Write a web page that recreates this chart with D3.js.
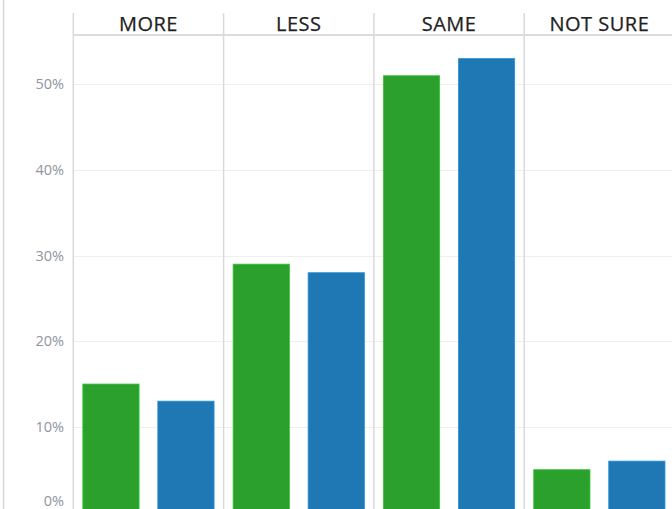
<!DOCTYPE html>
<html>
<head>
<meta charset="utf-8">
<script src="https://cdn.jsdelivr.net/npm/d3@7"></script>
<style>
  html, body { margin: 0; padding: 0; background: #fff; }
  svg { display: block; }
</style>
</head>
<body>
<svg id="chart" width="672" height="509"></svg>
<script>
// Answer categories (one panel each) and the two series compared inside each panel
const categories = ["MORE", "LESS", "SAME", "NOT SURE"];
const seriesNames = ["Group A", "Group B"];
const groupA = [15, 29, 51, 5];   // percent
const groupB = [13, 28, 53, 6];   // percent
const yTicks = [0, 10, 20, 30, 40, 50];
const seriesColors = ["#2ca02c", "#1f77b4"];

const rows = categories.map((c, i) => ({
  category: c,
  values: [
    { series: seriesNames[0], value: groupA[i] },
    { series: seriesNames[1], value: groupB[i] }
  ]
}));

const W = 672, H = 509;
const plotLeft = 73.3, plotRight = 674.5;
const frameTop = 13, headerLine = 35;
const svg = d3.select("#chart");

const x = d3.scaleBand().domain(categories).range([plotLeft, plotRight]).padding(0);
const xInner = d3.scaleBand().domain(seriesNames)
  .range([0, x.bandwidth()]).paddingInner(0.25).paddingOuter(0.127);
const y = d3.scaleLinear().domain([0, 50]).range([512.5, 84.3]);

// outer left rule
svg.append("line")
  .attr("x1", 3.5).attr("x2", 3.5).attr("y1", 0).attr("y2", H)
  .attr("stroke", "#d6d6d6").attr("stroke-width", 1.5);

// horizontal gridlines
svg.append("g").selectAll("line").data(yTicks.filter(d => d > 0)).join("line")
  .attr("x1", plotLeft).attr("x2", W)
  .attr("y1", d => Math.round(y(d)) + 0.5).attr("y2", d => Math.round(y(d)) + 0.5)
  .attr("stroke", "#efefef").attr("stroke-width", 1);

// y axis labels
const yAxis = d3.axisLeft(y).tickValues(yTicks).tickFormat(d => d + "%").tickSize(0).tickPadding(0);
const ya = svg.append("g").attr("transform", `translate(64,0)`).call(yAxis);
ya.select(".domain").remove();
ya.selectAll("text")
  .attr("font-family", "'Open Sans', sans-serif")
  .attr("font-size", 14.5)
  .attr("fill", "#8e95a0");
// keep the 0% label inside the visible area
ya.selectAll(".tick").filter(d => d === 0).select("text").attr("dy", "-0.45em");

// bars
const panel = svg.append("g").selectAll("g").data(rows).join("g")
  .attr("transform", d => `translate(${x(d.category)},0)`);
panel.selectAll("rect").data(d => d.values).join("rect")
  .attr("x", d => xInner(d.series))
  .attr("width", xInner.bandwidth())
  .attr("y", d => y(d.value))
  .attr("height", d => y(0) - y(d.value))
  .attr("fill", (d, i) => seriesColors[i])
  .attr("stroke", (d, i) => d3.color(seriesColors[i]).brighter(0.6))
  .attr("stroke-width", 0.8);

// panel dividers
svg.append("g").selectAll("line").data(categories).join("line")
  .attr("x1", d => x(d)).attr("x2", d => x(d))
  .attr("y1", frameTop).attr("y2", H)
  .attr("stroke", "#d9d9d9").attr("stroke-width", 1.5);

// header rule
svg.append("line")
  .attr("x1", plotLeft).attr("x2", W).attr("y1", headerLine).attr("y2", headerLine)
  .attr("stroke", "#dcdcdc").attr("stroke-width", 2);

// panel headers
svg.append("g").selectAll("text").data(categories).join("text")
  .attr("x", d => x(d) + x.bandwidth() / 2)
  .attr("y", 30.5)
  .attr("text-anchor", "middle")
  .attr("font-family", "'Open Sans', sans-serif")
  .attr("font-size", 20)
  .attr("letter-spacing", 0.5)
  .attr("fill", "#222")
  .attr("stroke", "#222")
  .attr("stroke-width", 0.25)
  .text(d => d);
</script>
</body>
</html>
